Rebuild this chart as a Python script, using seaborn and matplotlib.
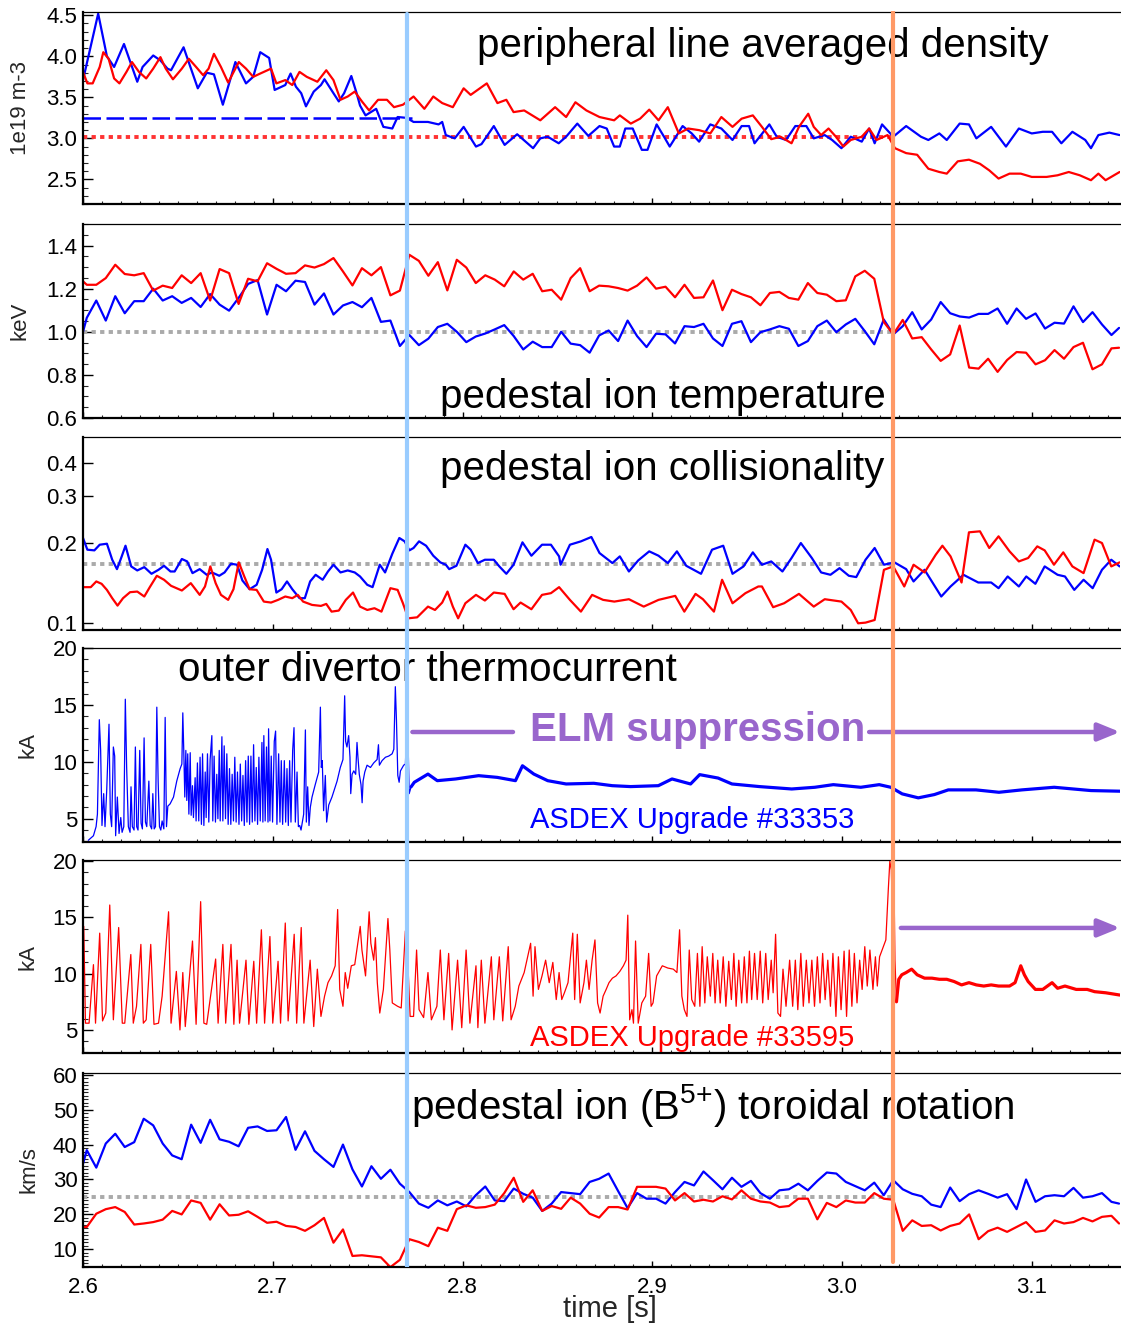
import numpy as np
import matplotlib
matplotlib.use("Agg")
import matplotlib.pyplot as plt
import seaborn as sns
from matplotlib.ticker import MultipleLocator, FixedLocator, FixedFormatter, NullLocator, FormatStrFormatter

sns.set_theme(style="ticks")
plt.rcParams['font.family'] = ['Liberation Sans', 'DejaVu Sans']
plt.rcParams['mathtext.fontset'] = 'custom'
plt.rcParams['mathtext.rm'] = 'Liberation Sans'

BLUE = '#0000FF'
RED = '#FF0000'
GRAY = '#AAAAAA'
PURPLE = '#9966CC'
VBLUE = '#99CCFF'
VORANGE = '#FF9966'

T_SUP_START = 2.771   # light blue line
T_ORANGE = 3.027      # orange line

# ---------------- panel 1: peripheral line averaged density ----------------
DENS_BLUE = [(2.600,3.71),(2.608,4.52),(2.6126,4.0),(2.6164,3.87),(2.6216,4.15),(2.6286,3.69),(2.6314,3.87),
 (2.637,4.01),(2.6408,3.95),(2.6445,3.85),(2.6464,3.83),(2.653,4.11),(2.6605,3.61),(2.6652,3.8),(2.669,3.78),
 (2.6737,3.41),(2.6803,3.93),(2.6859,3.67),(2.6897,3.75),(2.6934,4.05),(2.6981,3.98),(2.701,3.59),(2.7066,3.65),
 (2.7094,3.79),(2.7122,3.63),(2.715,3.55),(2.7175,3.39),(2.7216,3.57),(2.7254,3.65),(2.7273,3.72),(2.732,3.55),
 (2.7348,3.45),(2.7376,3.55),(2.7414,3.76),(2.7442,3.55),(2.746,3.4),(2.7489,3.28),(2.7545,3.36),(2.7583,3.14),
 (2.763,3.12),(2.7658,3.26),(2.7705,3.25),(2.7742,3.2),(2.7818,3.2),(2.7874,3.17),(2.7893,3.2),(2.7912,3.04),
 (2.7959,3.0),(2.8006,3.14),(2.8071,2.9),(2.81,2.93),(2.8165,3.15),(2.8222,2.92),(2.8288,3.05),(2.8372,2.88),
 (2.841,3.0),(2.8449,3.02),(2.8507,2.94),(2.8546,3.02),(2.8605,3.18),(2.8663,3.03),(2.8722,3.15),(2.876,3.12),
 (2.8799,2.9),(2.8829,2.9),(2.8858,3.12),(2.8897,3.12),(2.8945,2.86),(2.8975,2.86),(2.9023,3.17),(2.9062,3.02),
 (2.9092,2.9),(2.916,3.15),(2.9208,3.06),(2.9247,2.96),(2.9306,3.17),(2.9364,3.12),(2.9423,2.98),(2.9471,3.15),
 (2.951,3.15),(2.9539,2.94),(2.9617,3.17),(2.9656,3.02),(2.9705,2.98),(2.9754,3.15),(2.9812,3.15),(2.9851,3.0),
 (2.9909,3.04),(2.9948,2.98),(2.9997,2.88),(3.0046,3.02),(3.0104,2.96),(3.0143,3.12),(3.0172,2.94),(3.0211,3.17),
 (3.027,3.02),(3.0338,3.15),(3.0416,3.02),(3.0455,2.98),(3.0513,3.06),(3.0552,2.98),(3.062,3.18),(3.0669,3.17),
 (3.0708,3.0),(3.0786,3.14),(3.0864,2.9),(3.0932,3.12),(3.1,3.06),(3.1058,3.08),(3.1107,3.08),(3.1156,2.94),
 (3.1214,3.08),(3.1282,2.98),(3.1312,2.88),(3.1351,3.04),(3.1409,3.07),(3.1463,3.04)]
DENS_RED = [(2.600,3.81),(2.6023,3.67),(2.6051,3.67),(2.6088,3.87),(2.6107,4.05),(2.6135,3.97),(2.6164,3.73),
 (2.6192,3.67),(2.6229,3.81),(2.6258,3.93),(2.6295,3.81),(2.6333,3.73),(2.637,3.85),(2.6408,3.99),(2.6436,3.85),
 (2.6474,3.72),(2.6521,3.85),(2.6558,3.97),(2.6596,3.87),(2.6633,3.77),(2.6662,3.85),(2.669,4.03),(2.6727,3.87),
 (2.6765,3.68),(2.6821,3.93),(2.6859,3.85),(2.6897,3.75),(2.6934,3.79),(2.6991,3.85),(2.7019,3.67),(2.7066,3.71),
 (2.7103,3.65),(2.7141,3.81),(2.7179,3.75),(2.7235,3.69),(2.7282,3.83),(2.732,3.71),(2.7357,3.47),(2.7395,3.51),
 (2.7432,3.57),(2.747,3.45),(2.7508,3.34),(2.7555,3.47),(2.7602,3.47),(2.7639,3.38),(2.7686,3.41),(2.7742,3.51),
 (2.7799,3.36),(2.7846,3.51),(2.7893,3.43),(2.7949,3.38),(2.8006,3.61),(2.8043,3.53),(2.8128,3.67),(2.8184,3.43),
 (2.8231,3.47),(2.8269,3.32),(2.8325,3.34),(2.841,3.22),(2.8449,3.3),(2.8488,3.38),(2.8546,3.26),(2.8595,3.44),
 (2.8653,3.34),(2.8722,3.26),(2.8799,3.22),(2.8829,3.28),(2.8887,3.18),(2.8936,3.24),(2.8984,3.35),(2.9033,3.22),
 (2.9082,3.38),(2.914,3.06),(2.9189,3.12),(2.9247,3.1),(2.9306,3.06),(2.9364,3.26),(2.9423,3.14),(2.9471,3.24),
 (2.953,3.28),(2.9578,3.14),(2.9627,2.99),(2.9676,3.02),(2.9734,2.94),(2.9773,3.14),(2.9822,3.3),(2.9851,3.14),
 (2.989,3.04),(2.9929,3.12),(2.9968,3.02),(3.0007,2.9),(3.0046,2.98),(3.0104,3.02),(3.0143,3.12),(3.0182,2.98),
 (3.024,3.04),(3.0279,2.88),(3.0338,2.82),(3.0396,2.8),(3.0455,2.63),(3.0513,2.59),(3.0552,2.57),(3.061,2.72),
 (3.0669,2.74),(3.0727,2.69),(3.0776,2.61),(3.0825,2.51),(3.0883,2.57),(3.0942,2.57),(3.1,2.53),(3.1078,2.53),
 (3.1136,2.55),(3.1195,2.59),(3.1253,2.55),(3.1312,2.49),(3.1351,2.57),(3.1389,2.49),(3.1463,2.59)]
DENS_REF_BLUE = 3.25
DENS_REF_RED = 3.02

# ------------- panels 2 and 6: profile vertices every 5 ms from 2.602 s -------------
VTX_T = np.concatenate([[2.600], 2.602 + 0.005 * np.arange(109), [3.146]])
TI_RED = [1.234, 1.218,
 1.218,1.249,1.311,1.268,1.262,1.272,1.191,1.214,1.203,1.262,1.226,1.272,1.145,1.291,1.272,1.129,1.246,1.234,
 1.318,1.292,1.269,1.272,1.308,1.298,1.314,1.342,1.28,1.215,1.295,1.262,1.3,1.169,1.191,1.357,1.329,1.26,1.323,
 1.192,1.334,1.298,1.226,1.262,1.242,1.211,1.28,1.242,1.269,1.188,1.195,
 1.149,1.249,1.295,1.188,1.214,1.211,1.203,1.191,1.214,1.252,1.2,1.209,1.16,1.218,1.157,1.16,1.238,1.1,1.195,
 1.175,1.16,1.123,1.18,1.185,1.157,1.149,1.226,1.18,1.172,1.142,1.146,1.257,1.283,1.246,1.046,0.988,1.055,0.969,
 0.975,0.918,0.865,0.895,1.029,0.834,0.829,0.875,0.814,0.869,0.906,0.903,0.849,0.868,0.915,0.875,0.929,0.949,
 0.826,0.849,0.923, 0.926]
TI_BLUE = [1.0, 1.065,
 1.145,1.052,1.165,1.086,1.142,1.142,1.2,1.145,1.165,1.134,1.157,1.115,1.175,1.126,1.098,1.157,1.222,1.24,1.08,
 1.218,1.188,1.237,1.231,1.126,1.178,1.08,1.122,1.138,1.114,1.157,1.046,1.052,0.934,0.985,0.938,0.968,1.022,1.037,
 1.0,0.952,0.978,0.992,1.011,1.031,0.98,0.918,0.954,0.929,0.929,
 1.0,0.945,0.938,0.903,0.983,1.006,0.957,1.052,0.98,0.929,0.991,0.988,0.946,1.026,1.022,1.037,0.969,0.934,1.037,
 1.049,0.952,0.998,1.011,1.026,1.014,0.934,0.957,1.026,1.052,0.998,1.034,1.06,1.003,0.942,1.057,0.988,1.026,1.091,
 1.011,1.057,1.138,1.086,1.071,1.066,1.083,1.083,1.108,1.037,1.108,1.06,1.085,1.015,1.042,1.038,1.118,1.045,1.091,
 1.034,0.985, 1.018]
TI_REF = 1.0

ROT_BLUE = [34.5, 38.4,
 33.4,40.3,43.1,39.3,40.7,47.4,45.5,40.3,36.9,35.8,45.7,40.5,47.1,41.5,40.8,39.5,44.8,45.2,43.9,44.1,47.9,38.5,
 43.8,38.2,35.8,33.6,40.0,32.9,28.0,33.8,30.2,32.8,28.8,26.4,23.1,21.9,24.0,22.6,23.7,22.3,25.5,28.0,24.0,23.8,
 27.4,25.9,24.8,21.0,23.1,
 26.4,26.1,25.8,29.3,30.2,31.7,26.7,21.8,26.1,24.5,24.5,23.1,26.4,29.3,28.3,32.3,29.8,27.2,30.5,27.9,29.6,26.1,
 24.5,26.9,27.2,28.8,26.9,29.6,32.0,31.7,29.3,28.1,26.9,29.1,25.5,29.8,27.2,25.9,25.2,22.8,22.1,27.7,23.8,25.8,
 26.9,25.9,24.8,25.8,21.5,30.0,23.6,25.2,25.5,25.2,27.6,24.8,25.2,26.1,23.6, 23.1]
ROT_RED = [16.4, 16.4,
 20.2,21.5,22.1,20.7,17.1,17.4,17.8,18.5,21.0,20.0,24.0,23.3,18.5,22.9,19.7,19.9,20.9,19.3,17.6,17.9,16.7,16.4,
 15.3,16.9,19.0,11.9,15.7,8.1,8.3,8.0,7.7,4.9,7.0,12.9,12.1,10.9,16.2,15.3,21.5,22.6,21.9,22.1,22.8,26.1,30.5,
 23.6,26.9,21.0,22.4,
 21.6,24.8,23.1,20.2,19.1,22.1,22.1,21.4,27.9,27.9,27.9,27.4,24.0,26.1,23.7,24.2,23.7,25.2,24.3,26.9,24.5,23.7,
 23.4,22.1,22.4,24.5,24.5,18.6,23.3,22.1,24.0,23.4,23.4,26.1,24.5,24.2,15.3,18.3,16.7,16.9,15.4,16.7,17.4,20.0,
 12.9,15.2,16.2,15.0,16.4,17.8,15.0,15.4,18.3,17.4,17.8,19.0,18.0,19.3,19.6, 17.4]
ROT_REF = 25.0

# ---------------- panel 3: pedestal ion collisionality ----------------
COLL_BLUE = [(2.6,.2083),(2.6023,.1882),(2.606,.1871),(2.6088,.1965),(2.6126,.1982),(2.6154,.1725),(2.6179,.159),
 (2.6201,.1751),(2.6224,.1948),(2.6254,.1628),(2.6286,.1572),(2.6323,.1618),(2.6361,.1527),(2.6398,.1581),
 (2.6427,.1637),(2.6461,.1558),(2.6483,.1558),(2.6521,.1736),(2.6549,.17),(2.6577,.1536),(2.6615,.159),(2.6652,.1514),
 (2.668,.1545),(2.6718,.1501),(2.6746,.1545),(2.678,.1666),(2.6812,.1652),(2.684,.1441),(2.6878,.1336),(2.6915,.1388),
 (2.6944,.1581),(2.6972,.1893),(2.6991,.1725),(2.7019,.1298),(2.7047,.1336),(2.7075,.1429),(2.7103,.1336),
 (2.7141,.1236),(2.7169,.1236),(2.7197,.1429),(2.7226,.1514),(2.7263,.145),(2.7291,.1558),(2.732,.1652),(2.7357,.1545),
 (2.7395,.1572),(2.7432,.1545),(2.746,.1492),(2.7498,.1388),(2.7526,.136),(2.7564,.1652),(2.7592,.1545),(2.763,.1817),
 (2.7667,.2083),(2.7695,.2023),(2.772,.1871),(2.7742,.191),(2.7771,.2023),(2.7808,.1948),(2.7846,.1786),(2.7883,.1686),
 (2.7912,.1652),(2.793,.159),(2.7968,.1637),(2.8015,.1965),(2.8043,.1882),(2.8081,.1676),(2.8118,.1725),(2.8165,.1725),
 (2.8194,.1628),(2.8231,.1527),(2.8269,.1652),(2.8316,.2006),(2.8363,.1786),(2.8419,.1965),(2.8466,.1965),(2.8509,.1776),
 (2.8517,.1652),(2.8566,.1965),(2.8624,.2023),(2.8679,.2101),(2.8722,.1828),(2.879,.1676),(2.8829,.1776),(2.8877,.1558),
 (2.8926,.1715),(2.8984,.1855),(2.9033,.1786),(2.9082,.1676),(2.913,.1855),(2.9179,.1637),(2.9257,.1527),(2.9315,.1882),
 (2.9374,.1948),(2.9423,.1527),(2.9481,.1628),(2.953,.1839),(2.9578,.1652),(2.9627,.17),(2.9686,.1558),(2.9734,.1751),
 (2.9783,.1994),(2.9841,.1751),(2.989,.1545),(2.9939,.1514),(2.9987,.1604),(3.0036,.1501),(3.0075,.1484),(3.0124,.1725),
 (3.0172,.191),(3.0221,.1652),(3.0276,.1686),(3.0338,.159),(3.0377,.1429),(3.0435,.1581),(3.0523,.1254),(3.0572,.1368),
 (3.064,.1514),(3.0718,.1416),(3.0786,.1416),(3.0825,.1348),(3.0873,.1492),(3.0932,.1368),(3.0971,.1492),(3.1019,.14),
 (3.1068,.1628),(3.1136,.1514),(3.1175,.1492),(3.1224,.1328),(3.1273,.145),(3.1321,.1348),(3.137,.1581),(3.1419,.1725),
 (3.1463,.1628)]
COLL_RED = [(2.6,.136),(2.6041,.136),(2.607,.1429),(2.6098,.14),(2.6126,.1328),(2.6154,.1236),(2.6182,.1159),
 (2.6211,.1236),(2.6248,.1302),(2.6286,.1309),(2.6323,.1254),(2.6352,.136),(2.6389,.1501),(2.6427,.145),(2.6464,.1376),
 (2.6521,.1321),(2.6568,.1408),(2.6615,.1272),(2.6643,.1368),(2.6671,.1628),(2.6699,.1408),(2.6727,.1272),(2.6765,.1218),
 (2.6793,.1336),(2.6821,.1686),(2.685,.1492),(2.6878,.1336),(2.6915,.1328),(2.6953,.12),(2.6991,.119),(2.7028,.1218),
 (2.7066,.1254),(2.7103,.1236),(2.7132,.1272),(2.716,.12),(2.7207,.1166),(2.7254,.1156),(2.7282,.1176),(2.731,.11),
 (2.7348,.111),(2.7385,.1218),(2.7423,.1298),(2.746,.1149),(2.7498,.1116),(2.7536,.1133),(2.7573,.11),(2.762,.1348),
 (2.7658,.1328),(2.7686,.1183),(2.7714,.1038),(2.7761,.1047),(2.7818,.1149),(2.7855,.1116),(2.7893,.119),(2.7921,.1309),
 (2.7949,.1149),(2.7977,.1038),(2.8015,.1183),(2.8071,.1272),(2.8118,.1211),(2.8165,.1298),(2.8222,.1283),(2.8269,.1123),
 (2.8306,.119),(2.8363,.1123),(2.8419,.1272),(2.8466,.1291),(2.8509,.136),(2.8566,.1218),(2.8624,.11),(2.8683,.1272),
 (2.8741,.1218),(2.88,.12),(2.8877,.1225),(2.8955,.1149),(2.9033,.1218),(2.9121,.1261),(2.9169,.11),(2.9228,.1283),
 (2.9267,.1225),(2.9325,.11),(2.9368,.145),(2.9423,.1183),(2.9491,.1291),(2.9559,.1368),(2.9578,.1368),(2.9637,.1143),
 (2.9695,.1183),(2.9773,.1283),(2.9851,.1149),(2.9909,.1225),(2.9997,.12),(3.0046,.1116),(3.0085,.0994),(3.0124,.1),
 (3.0172,.1023),(3.0221,.1581),(3.027,.1628),(3.0328,.1368),(3.0377,.1652),(3.0435,.1545),(3.0494,.1802),(3.0529,.1948),
 (3.0572,.1776),(3.063,.1416),(3.0669,.2188),(3.0727,.2207),(3.0776,.191),(3.0825,.2113),(3.0883,.1855),(3.0932,.17),
 (3.0981,.1751),(3.1029,.1937),(3.1068,.1871),(3.1117,.1652),(3.1166,.1839),(3.1214,.1628),(3.1273,.1536),(3.1331,.2053),
 (3.137,.1994),(3.1419,.1628),(3.1463,.1686)]
COLL_REF = 0.1656

# ---------------- panels 4/5: outer divertor thermocurrent (time in ms after 2.6 s, kA) ----------------
TC_33353_ELM = [(2.8,3.1),(5.5,3.5),(6.9,4.3),(7.6,5.4),(8.6,13.7),(9.3,11.0),(10.0,4.4),(10.9,7.2),(11.6,4.3),
 (12.5,7.5),(13.7,13.3),(14.4,5.4),(15.1,4.3),(16.0,11.3),(16.7,10.5),(17.2,3.5),(18.1,6.9),(19.0,3.7),(19.9,5.1),
 (20.6,3.8),(21.5,4.3),(22.3,15.5),(23.0,9.5),(23.9,4.3),(24.8,3.8),(25.3,7.8),(26.0,4.3),(26.9,4.0),(27.6,11.3),
 (28.3,4.3),(29.0,4.0),(29.9,11.0),(30.6,4.6),(31.3,4.1),(32.2,12.1),(32.9,4.7),(33.6,4.3),(34.7,8.3),(35.4,4.4),
 (36.2,4.1),(36.8,7.2),(37.5,4.1),(38.2,4.3),(38.9,14.8),(39.6,8.3),(40.3,4.3),(41.0,4.0),(41.7,4.8),(42.6,4.1),
 (43.3,13.9),(44.0,4.3),(44.7,6.1),(45.9,6.3),(47.7,6.9),(49.4,8.3),(51.2,9.4),(52.1,9.8),(52.6,14.3),
 (53.1,11.0),(53.65,6.9),(54.2,11.0),(54.7,6.6),(55.2,10.7),(55.8,5.4),(56.5,10.8),(57.0,5.3),(57.7,7.9),(58.2,5.1),
 (59.1,8.6),(59.6,4.8),(60.3,9.9),(61.0,4.8),(61.7,10.4),(62.4,4.5),(63.0,10.7),(63.7,4.4),(64.4,9.1),(64.9,5.1),
 (65.6,10.7),(66.3,4.7),(67.0,10.2),(67.9,12.3),(68.4,4.8),(69.1,10.5),(69.8,4.7),(70.5,8.9),(71.1,5.0),(71.8,11.0),
 (72.3,4.8),(73.2,12.2),(73.7,4.8),(74.4,11.4),(75.1,5.0),(75.8,10.7),(76.5,4.5),(77.2,9.4),(77.9,4.5),(78.6,8.9),
 (79.3,4.8),(80.0,10.4),(80.7,4.7),(81.4,9.1),(82.2,4.5),(82.9,9.8),(83.6,4.8),(84.3,8.8),(85.0,4.4),(85.7,10.1),
 (86.4,4.7),(87.1,10.5),(87.8,4.5),(88.5,10.5),(89.2,4.7),(89.9,11.5),(90.6,4.8),(91.3,9.5),(92.0,4.5),(92.7,10.4),
 (93.4,4.8),(94.3,11.7),(94.8,4.7),(95.3,12.3),(96.0,4.8),(96.7,11.3),(97.5,4.7),(97.8,12.9),(98.5,4.8),(99.2,10.5),
 (99.9,4.7),(100.8,11.8),(101.5,12.7),(102.2,4.5),(103.1,10.7),(103.8,4.7),(104.5,10.1),(105.2,4.5),(106.1,10.1),
 (106.8,4.7),(107.5,9.4),(108.2,4.4),(108.9,10.1),(109.6,4.7),(110.5,11.0),(111.2,13.0),(111.9,4.7),(112.8,9.1),
 (113.5,4.3),(114.2,4.4),(114.9,4.0),(115.6,4.7),(116.3,5.4),(117.2,12.8),(117.7,4.7),(118.4,7.8),(119.1,4.4),
 (119.8,6.0),(120.7,6.9),(122.4,8.0),(124.2,9.1),(125.1,14.8),(125.6,9.5),(126.1,10.1),(126.8,5.7),(127.7,8.8),
 (128.4,4.7),(129.5,6.2),(131.2,6.9),(133.9,8.3),(135.6,9.5),(137.0,10.2),(137.9,15.8),(138.4,11.8),(139.1,11.3),
 (140.0,12.3),(140.7,10.4),(141.1,7.2),(141.8,8.9),(142.7,9.2),(143.7,8.9),(144.4,11.7),(144.9,10.4),(145.6,8.9),
 (146.5,8.0),(147.1,6.4),(147.6,8.3),(148.5,9.1),(149.7,9.7),(151.5,9.5),(153.2,9.9),(155.0,10.2),(155.7,11.5),
 (156.2,9.7),(157.6,10.1),(159.4,10.4),(161.1,10.5),(162.9,10.7),(163.8,11.1),(164.6,16.6),(165.2,13.6),(165.9,8.8),
 (166.6,8.2),(167.3,9.2),(169.0,9.7),(169.9,9.8),(170.8,13.9),(171.3,11.8),(171.9,7.2),(172.9,7.8)]
TC_33353_SUP = [(172.9,7.8),(174.6,8.2),(181.8,8.92),(186.7,8.34),(196.4,8.49),(208.5,8.78),(218.3,8.63),(227.9,8.34),
 (231.6,9.65),(237.6,8.92),(244.9,8.34),(254.6,8.05),(269.2,8.11),(278.9,7.90),(288.6,7.82),(303.2,7.90),(310.4,8.49),
 (320.2,8.05),(325.0,8.87),(334.7,8.57),(342.0,8.05),(356.5,7.82),(373.5,7.61),(385.7,7.76),(395.4,7.99),(409.9,7.76),
 (419.6,7.99),(425.7,7.76),(431.7,7.18),(440.2,6.83),(448.7,7.12),(456.0,7.53),(470.6,7.53),(482.7,7.32),(494.8,7.53),
 (511.8,7.76),(531.2,7.47),(547.7,7.41)]
TC_33595_ELM = [(0.0,5.6),(0.4,14.2),(1.3,5.6),(3.2,5.6),(5.5,10.8),(6.6,5.6),(8.8,13.6),(10.3,5.8),(12.0,6.5),
 (14.1,16.1),(16.0,5.9),(18.8,14.1),(20.7,5.6),(22.0,5.6),(25.2,11.7),(26.5,5.6),(28.2,7.1),(30.5,12.6),(31.8,5.6),
 (33.3,5.9),(35.7,12.6),(37.4,5.5),(39.8,5.6),(41.7,8.0),(45.1,15.5),(46.4,5.6),(49.2,10.2),(51.1,5.0),(52.6,10.1),
 (53.9,5.3),(57.7,12.9),(59.6,5.5),(62.0,16.4),(63.7,5.6),(65.2,5.5),(69.9,11.3),(71.2,5.6),(73.7,12.6),(75.2,5.6),
 (78.0,12.6),(79.5,5.5),(81.2,11.2),(82.5,5.6),(85.9,11.2),(87.4,5.5),(90.0,11.1),(91.5,5.6),(94.0,13.9),(95.7,5.6),
 (98.5,13.3),(100.0,5.6),(102.8,11.1),(104.1,5.6),(106.6,14.5),(108.1,5.8),(111.3,13.5),(112.6,5.6),(115.0,14.1),
 (116.4,5.6),(119.7,11.2),(121.6,5.3),(123.5,10.4),(125.4,6.2),(127.3,8.0),(129.1,9.2),(131.0,9.8),(132.9,10.7),
 (134.2,15.7),(135.3,8.6),(137.0,7.1),(138.2,10.1),(139.5,8.7),(141.4,10.7),(143.2,10.8),(146.1,14.2),(147.0,12.1),
 (148.9,9.8),(150.8,15.5),(151.7,12.7),(153.2,11.2),(154.1,13.2),(155.1,9.2),(156.4,6.5),(158.3,8.6),(160.7,14.9),
 (161.7,12.1),(163.0,7.4),(165.8,7.1),(167.7,6.95),(169.9,13.8),(170.9,12.1),(172.4,6.2),(174.2,6.2),(175.8,12.1),
 (177.1,6.8),(179.5,6.1),(181.8,10.1),(183.6,5.9),(186.5,7.1),(188.3,12.1),(190.2,5.9),(192.7,11.8),(194.5,5.0),
 (197.4,11.2),(199.6,5.2),(201.9,12.1),(203.9,5.6),(207.1,10.7),(208.1,5.2),(209.9,11.2),(211.8,5.6),(215.2,11.5),
 (216.5,5.9),(219.4,11.5),(221.2,5.8),(224.1,12.4),(225.6,5.9),(227.8,7.1),(229.7,8.9),(232.5,10.1),(235.9,12.7),
 (237.2,8.0),(238.2,12.4),(240.0,8.6),(241.9,9.8),(243.8,11.2),(245.7,9.2),(247.6,11.0),(249.4,7.7),(250.9,10.1),
 (252.3,7.7),(253.7,8.3),(255.6,9.2),(258.1,13.6),(259.1,7.7),(260.5,13.5),(262.0,7.4),(264.0,9.2),(265.3,11.2),
 (266.7,8.6),(268.3,11.2),(269.8,13.0),(271.2,7.4),(272.5,6.5),(274.1,8.0),(275.7,8.6),(277.2,9.2),(279.0,9.6),
 (280.9,9.8),(282.9,10.2),(284.8,10.7),(286.2,11.2),(287.1,15.2),(288.1,5.9),(289.3,6.8),(290.1,5.6),(291.2,12.9),
 (292.6,5.6),(294.5,7.4),(296.5,8.0),(298.1,11.8),(299.4,7.1),(300.4,7.4),(302.3,9.8),(305.3,10.7),(308.2,10.5),
 (311.1,10.4),(313.0,10.1),(314.4,13.9),(315.6,8.0),(316.9,6.8),(318.3,6.2),(319.5,12.1),(320.8,7.7),(322.4,7.1),
 (323.8,11.8),(325.1,7.1),(326.3,12.4),(327.7,7.4),(329.0,11.5),(330.6,8.0),(331.9,11.8),(333.1,7.4),(334.5,11.2),
 (335.8,7.4),(337.4,11.5),(338.8,7.1),(340.3,11.1),(341.7,7.7),(343.0,11.8),(344.2,7.1),(345.6,11.2),(347.1,7.4),
 (348.5,11.5),(349.9,7.4),(351.2,12.0),(352.4,7.7),(353.9,11.8),(355.3,7.7),(356.9,12.0),(358.2,7.4),(359.8,11.8),
 (361.1,7.7),(362.7,11.2),(363.7,8.3),(365.0,13.5),(366.2,6.5),(367.6,6.2),(368.9,10.4),(370.5,7.1),(372.4,11.2),
 (374.0,7.1),(375.4,11.2),(376.7,6.8),(378.3,11.8),(379.6,7.1),(381.2,11.2),(382.6,7.4),(384.1,11.2),(385.5,7.1),
 (387.0,11.5),(388.4,7.4),(389.8,11.8),(391.1,7.7),(392.5,11.2),(393.9,7.1),(395.2,11.8),(396.8,6.2),(398.1,11.5),
 (399.5,6.8),(401.1,12.0),(402.4,6.2),(403.8,12.1),(405.2,7.1),(406.5,11.8),(407.9,7.4),(409.3,11.2),(410.6,8.6),
 (412.0,12.4),(413.3,8.9),(414.7,12.1),(416.3,8.6),(417.6,11.5),(418.6,8.9),(419.8,11.5),(421.1,12.1),(423.1,13.0),
 (424.4,17.5),(425.2,20.0),(426.0,19.2),(426.6,15.1),(427.4,18.0),(427.9,11.2),(428.7,7.5)]
TC_33595_SUP = [(428.7,7.5),(429.9,9.5),(431.5,9.9),(433.8,10.1),(436.7,10.4),(439.6,9.9),(443.5,9.6),(447.4,9.6),
 (451.3,9.5),(455.2,9.5),(459.1,9.3),(463.0,9.0),(466.9,9.2),(470.8,9.0),(474.7,8.9),(478.6,9.0),(482.5,8.9),
 (488.3,8.9),(491.2,9.2),(494.2,10.7),(496.1,9.9),(498.1,9.3),(501.9,8.6),(505.8,8.6),(510.7,9.2),(513.6,8.7),
 (517.5,8.9),(523.4,8.6),(529.2,8.6),(533.1,8.4),(539.0,8.3),(546.4,8.1)]

# ---------------- layout ----------------
W, H = 1121, 1325
fig = plt.figure(figsize=(W / 100, H / 100), dpi=100)
fig.patch.set_facecolor('white')
LEFT, RIGHT = 83, 1120
PANELS = [(12, 204), (224, 418), (437, 630), (648, 842), (860, 1053), (1073, 1267)]
XLIM = (2.6, 3.1465)
FS_TICK = 16
FS_TITLE = 29


def add_ax(top, bot):
    ax = fig.add_axes([LEFT / W, 1 - bot / H, (RIGHT - LEFT) / W, (bot - top) / H])
    ax.set_facecolor('none')
    ax.set_xlim(*XLIM)
    ax.spines['right'].set_visible(False)
    ax.spines['top'].set_linewidth(0.9)
    ax.spines['left'].set_linewidth(1.6)
    ax.spines['bottom'].set_linewidth(1.6)
    for s in ('top', 'left', 'bottom'):
        ax.spines[s].set_color('black')
    ax.xaxis.set_major_locator(MultipleLocator(0.1))
    ax.xaxis.set_minor_locator(MultipleLocator(0.01))
    ax.tick_params(axis='x', which='major', direction='in', length=4, width=1.0, top=False,
                   labelsize=FS_TICK, pad=7, colors='black')
    ax.tick_params(axis='x', which='minor', direction='in', length=2.2, width=0.8, top=False)
    ax.tick_params(axis='y', which='major', direction='in', length=7, width=1.0, right=False,
                   labelsize=FS_TICK, pad=4, colors='black')
    ax.tick_params(axis='y', which='minor', direction='in', length=3.5, width=0.8, right=False)
    ax.grid(False)
    return ax


def draw(ax, t, v, color, lw):
    sns.lineplot(x=np.asarray(t, dtype=float), y=np.asarray(v, dtype=float), ax=ax, color=color,
                 linewidth=lw, sort=False, estimator=None, legend=False)


def draw_pairs(ax, pairs, color, lw, ms=False):
    t, v = zip(*pairs)
    t = np.asarray(t, dtype=float)
    if ms:
        t = 2.6 + t / 1000.0
    draw(ax, t, v, color, lw)


axes = [add_ax(*p) for p in PANELS]
ax1, ax2, ax3, ax4, ax5, ax6 = axes

DOT = (0, (1.1, 1.1))

# panel 1
ax1.hlines(DENS_REF_BLUE, 2.6, 2.7733, colors=BLUE, linestyles=(0, (7, 2.2)), linewidth=1.8)
ax1.hlines(DENS_REF_RED, 2.6, T_ORANGE, colors='#FF3333', linestyles=DOT, linewidth=2.8)
draw_pairs(ax1, DENS_BLUE, BLUE, 1.6)
draw_pairs(ax1, DENS_RED, RED, 1.6)
ax1.set_ylim(2.2, 4.54)
ax1.yaxis.set_major_locator(MultipleLocator(0.5))
ax1.yaxis.set_minor_locator(MultipleLocator(0.1))
ax1.yaxis.set_major_formatter(FormatStrFormatter('%.1f'))
ax1.set_ylabel('1e19 m-3', fontsize=16)
ax1.yaxis.set_label_coords(-0.0505, 0.5)
ax1.text(0.380, 0.823, 'peripheral line averaged density', transform=ax1.transAxes,
         fontsize=FS_TITLE, va='center', ha='left', color='black')

# panel 2
ax2.hlines(TI_REF, 2.6, T_ORANGE, colors=GRAY, linestyles=DOT, linewidth=2.8)
draw(ax2, VTX_T, TI_BLUE, BLUE, 1.6)
draw(ax2, VTX_T, TI_RED, RED, 1.6)
ax2.set_ylim(0.6, 1.5)
ax2.yaxis.set_major_locator(MultipleLocator(0.2))
ax2.yaxis.set_minor_locator(MultipleLocator(0.05))
ax2.yaxis.set_major_formatter(FormatStrFormatter('%.1f'))
ax2.set_ylabel('keV', fontsize=16)
ax2.yaxis.set_label_coords(-0.0505, 0.5)
ax2.text(0.344, 0.108, 'pedestal ion temperature', transform=ax2.transAxes,
         fontsize=FS_TITLE, va='center', ha='left', color='black')

# panel 3
ax3.set_yscale('log')
ax3.hlines(COLL_REF, 2.6, T_ORANGE, colors=GRAY, linestyles=DOT, linewidth=2.8)
draw_pairs(ax3, COLL_BLUE, BLUE, 1.6)
draw_pairs(ax3, COLL_RED, RED, 1.6)
ax3.set_ylim(0.0938, 0.50)
ax3.yaxis.set_major_locator(FixedLocator([0.1, 0.2, 0.3, 0.4]))
ax3.yaxis.set_major_formatter(FixedFormatter(['0.1', '0.2', '0.3', '0.4']))
ax3.yaxis.set_minor_locator(NullLocator())
ax3.set_ylabel('')
ax3.text(0.344, 0.834, 'pedestal ion collisionality', transform=ax3.transAxes,
         fontsize=FS_TITLE, va='center', ha='left', color='black')

# panel 4
draw_pairs(ax4, TC_33353_ELM, BLUE, 0.9, ms=True)
draw_pairs(ax4, TC_33353_SUP, BLUE, 2.3, ms=True)
ax4.set_ylim(2.95, 20.0)
ax4.set_ylabel('kA', fontsize=16)
ax4.yaxis.set_label_coords(-0.0425, 0.5)
ax4.text(0.0916, 0.887, 'outer divertor thermocurrent', transform=ax4.transAxes,
         fontsize=FS_TITLE, va='center', ha='left', color='black')
ax4.text(0.431, 0.577, 'ELM suppression', transform=ax4.transAxes, fontsize=FS_TITLE,
         fontweight='bold', va='center', ha='left', color=PURPLE)
ax4.text(0.431, 0.113, 'ASDEX Upgrade #33353', transform=ax4.transAxes, fontsize=21,
         va='center', ha='left', color=BLUE)
ax4.annotate('', xy=(2.8266, 0.567), xytext=(2.7736, 0.567), xycoords=('data', 'axes fraction'),
             textcoords=('data', 'axes fraction'),
             arrowprops=dict(arrowstyle='-', lw=3.2, color=PURPLE, shrinkA=0, shrinkB=0))
ax4.annotate('', xy=(3.1465, 0.567), xytext=(3.0143, 0.567), xycoords=('data', 'axes fraction'),
             textcoords=('data', 'axes fraction'),
             arrowprops=dict(arrowstyle='-|>,head_length=1.1,head_width=0.45', lw=3.2, color=PURPLE,
                             shrinkA=0, shrinkB=0))

# panel 5
draw_pairs(ax5, TC_33595_ELM, RED, 0.9, ms=True)
draw_pairs(ax5, TC_33595_SUP, RED, 2.3, ms=True)
ax5.set_ylim(2.95, 20.1)
ax5.set_ylabel('kA', fontsize=16)
ax5.yaxis.set_label_coords(-0.0425, 0.5)
ax5.text(0.431, 0.078, 'ASDEX Upgrade #33595', transform=ax5.transAxes, fontsize=21,
         va='center', ha='left', color=RED)
ax5.annotate('', xy=(3.1465, 0.648), xytext=(3.031, 0.648), xycoords=('data', 'axes fraction'),
             textcoords=('data', 'axes fraction'),
             arrowprops=dict(arrowstyle='-|>,head_length=1.1,head_width=0.45', lw=3.2, color=PURPLE,
                             shrinkA=0, shrinkB=0))

for ax in (ax4, ax5):
    ax.yaxis.set_major_locator(MultipleLocator(5))
    ax.yaxis.set_minor_locator(MultipleLocator(1))
    ax.yaxis.set_major_formatter(FormatStrFormatter('%d'))

# panel 6
ax6.hlines(ROT_REF, 2.6, T_ORANGE, colors=GRAY, linestyles=DOT, linewidth=2.8)
draw(ax6, VTX_T, ROT_BLUE, BLUE, 1.6)
draw(ax6, VTX_T, ROT_RED, RED, 1.6)
ax6.set_ylim(4.94, 60.5)
ax6.yaxis.set_major_locator(MultipleLocator(10))
ax6.yaxis.set_minor_locator(MultipleLocator(1))
ax6.yaxis.set_major_formatter(FormatStrFormatter('%d'))
ax6.set_ylabel('km/s', fontsize=16)
ax6.yaxis.set_label_coords(-0.0415, 0.5)
ax6.text(0.316, 0.835, 'pedestal ion (B$^{5{+}}$) toroidal rotation', transform=ax6.transAxes,
         fontsize=FS_TITLE, va='center', ha='left', color='black')

for ax in axes:
    ax.set_xlabel('')
    if ax is not ax6:
        ax.tick_params(axis='x', labelbottom=False)
ax6.xaxis.set_major_formatter(FormatStrFormatter('%.1f'))

fig.text(610 / W, 1 - 1309 / H, 'time [s]', fontsize=21, ha='center', va='center')

# vertical event markers spanning all panels
ov = fig.add_axes([LEFT / W, 1 - 1267 / H, (RIGHT - LEFT) / W, (1267 - 11) / H])
ov.set_xlim(*XLIM)
ov.set_ylim(0, 1)
ov.axis('off')
ov.patch.set_alpha(0)
ov.axvline(T_SUP_START, ymin=0.0, ymax=0.9976, color=VBLUE, lw=3.0)
ov.axvline(T_ORANGE, ymin=0.004, ymax=1.0, color=VORANGE, lw=3.0)

fig.savefig('out.png', dpi=100, facecolor='white')
